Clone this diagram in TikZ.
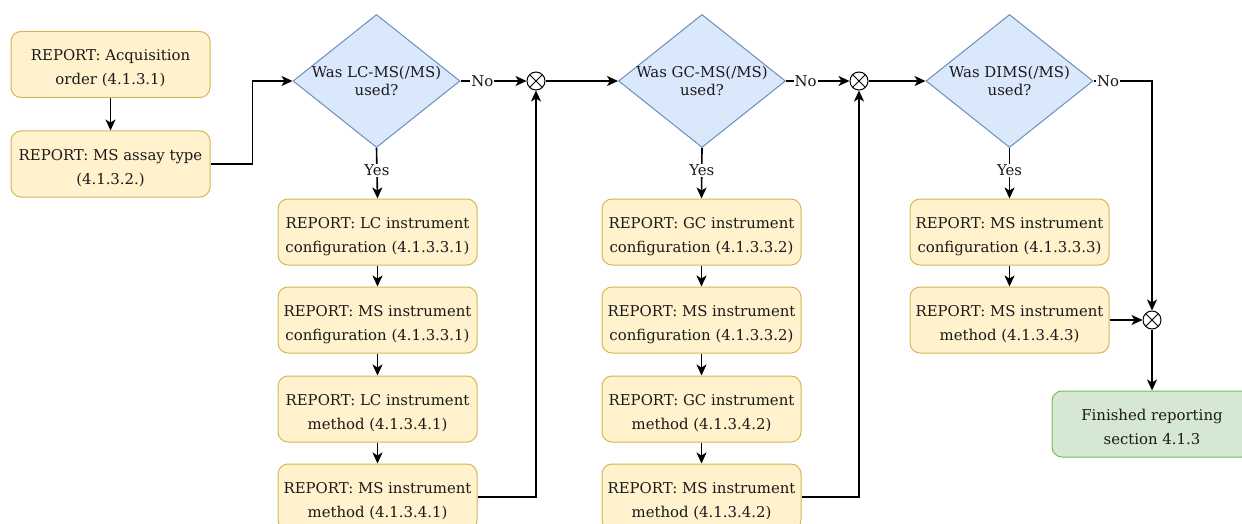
\documentclass[tikz,border=0pt]{standalone}
\usepackage{fontspec}
\setmainfont{DejaVu Serif}
\usetikzlibrary{shapes.geometric,arrows.meta}
\definecolor{repfill}{HTML}{FFF2CC}
\definecolor{repline}{HTML}{D6B656}
\definecolor{qfill}{HTML}{DAE8FC}
\definecolor{qline}{HTML}{6C8EBF}
\definecolor{endfill}{HTML}{D5E8D4}
\definecolor{endline}{HTML}{82B366}
\definecolor{ink}{HTML}{1A1A1A}

\tikzset{
  report/.style={draw=repline, fill=repfill, rounded corners=10pt,
    minimum width=199pt, minimum height=66pt, align=center, text=ink,
    font=\fontsize{14.9}{24}\selectfont, line width=1pt, inner sep=0pt,
    text height=44pt, text depth=3.5pt},
  finish/.style={report, draw=endline, fill=endfill, minimum width=200pt},
  question/.style={diamond, draw=qline, fill=qfill, minimum width=167pt,
    minimum height=133pt, inner sep=0pt, line width=1pt},
  qtext/.style={align=center, text=ink, font=\fontsize{14.9}{17.7}\selectfont, inner sep=0pt},
  junction/.style={circle, draw, fill=white, minimum size=18pt, inner sep=0pt,
    line width=1pt,
    path picture={\draw[line width=0.9pt]
      (path picture bounding box.north west) -- (path picture bounding box.south east)
      (path picture bounding box.north east) -- (path picture bounding box.south west);}},
  flow/.style={line width=1.6pt, -{Stealth[length=11pt,width=10pt,inset=3pt]}},
  tag/.style={fill=white, inner sep=1pt, text=ink, font=\fontsize{14.9}{17}\selectfont}
}

\begin{document}
\begin{tikzpicture}[x=1pt,y=-1pt]
  \useasboundingbox (0,0) rectangle (1242,524);
  \fill[white] (0,0) rectangle (1242,524);
  \clip (0,0) rectangle (1242,524);

  % opening steps
  \node[report] (a1) at (110.5,64.5) {REPORT: Acquisition\\order (4.1.3.1)};
  \node[report] (a2) at (110.5,164) {REPORT: MS assay type\\(4.1.3.2.)};

  % three questions along the top
  \node[question] (d1) at (376.5,81) {};
  \node[qtext] (d1t) at (d1) {Was LC-MS(/MS)\\used?};
  \node[question] (d2) at (702,81) {};
  \node[qtext] (d2t) at (d2) {Was GC-MS(/MS)\\used?};
  \node[question] (d3) at (1009.5,81) {};
  \node[qtext] (d3t) at (d3) {Was DIMS(/MS)\\used?};

  % junctions
  \node[junction] (j1) at (536,81) {};
  \node[junction] (j2) at (859,81) {};
  \node[junction] (j3) at (1152,320) {};

  % LC-MS branch
  \node[report] (l1) at (377.5,232) {REPORT: LC instrument\\configuration (4.1.3.3.1)};
  \node[report] (l2) at (377.5,320) {REPORT: MS instrument\\configuration (4.1.3.3.1)};
  \node[report] (l3) at (377.5,409) {REPORT: LC instrument\\method (4.1.3.4.1)};
  \node[report] (l4) at (377.5,497) {REPORT: MS instrument\\method (4.1.3.4.1)};

  % GC-MS branch
  \node[report] (g1) at (701.5,232) {REPORT: GC instrument\\configuration (4.1.3.3.2)};
  \node[report] (g2) at (701.5,320) {REPORT: MS instrument\\configuration (4.1.3.3.2)};
  \node[report] (g3) at (701.5,409) {REPORT: GC instrument\\method (4.1.3.4.2)};
  \node[report] (g4) at (701.5,497) {REPORT: MS instrument\\method (4.1.3.4.2)};

  % DIMS branch
  \node[report] (m1) at (1009.5,232) {REPORT: MS instrument\\configuration (4.1.3.3.3)};
  \node[report] (m2) at (1009.5,320) {REPORT: MS instrument\\method (4.1.3.4.3)};

  % end
  \node[finish] (fin) at (1152,424) {Finished reporting\\section 4.1.3};

  % connectors
  \draw[flow] (a1) -- (a2);
  \draw[flow] (a2.east) -- ++(42,0) |- (d1.west);

  \draw[flow] (d1.east) -- node[tag, pos=0.33] {No} (j1.west);
  \draw[flow] (d1.south) -- node[tag, pos=0.44] {Yes} (l1.north);
  \draw[flow] (l1) -- (l2);
  \draw[flow] (l2) -- (l3);
  \draw[flow] (l3) -- (l4);
  \draw[flow] (l4.east) -| (j1.south);
  \draw[flow] (j1.east) -- (d2.west);

  \draw[flow] (d2.east) -- node[tag, pos=0.31] {No} (j2.west);
  \draw[flow] (d2.south) -- node[tag, pos=0.44] {Yes} (g1.north);
  \draw[flow] (g1) -- (g2);
  \draw[flow] (g2) -- (g3);
  \draw[flow] (g3) -- (g4);
  \draw[flow] (g4.east) -| (j2.south);
  \draw[flow] (j2.east) -- (d3.west);

  \draw[flow] (d3.east) -| node[tag, pos=0.125] {No} (j3.north);
  \draw[flow] (d3.south) -- node[tag, pos=0.44] {Yes} (m1.north);
  \draw[flow] (m1) -- (m2);
  \draw[flow] (m2.east) -- (j3.west);
  \draw[flow] (j3.south) -- (fin.north);
\end{tikzpicture}
\end{document}
